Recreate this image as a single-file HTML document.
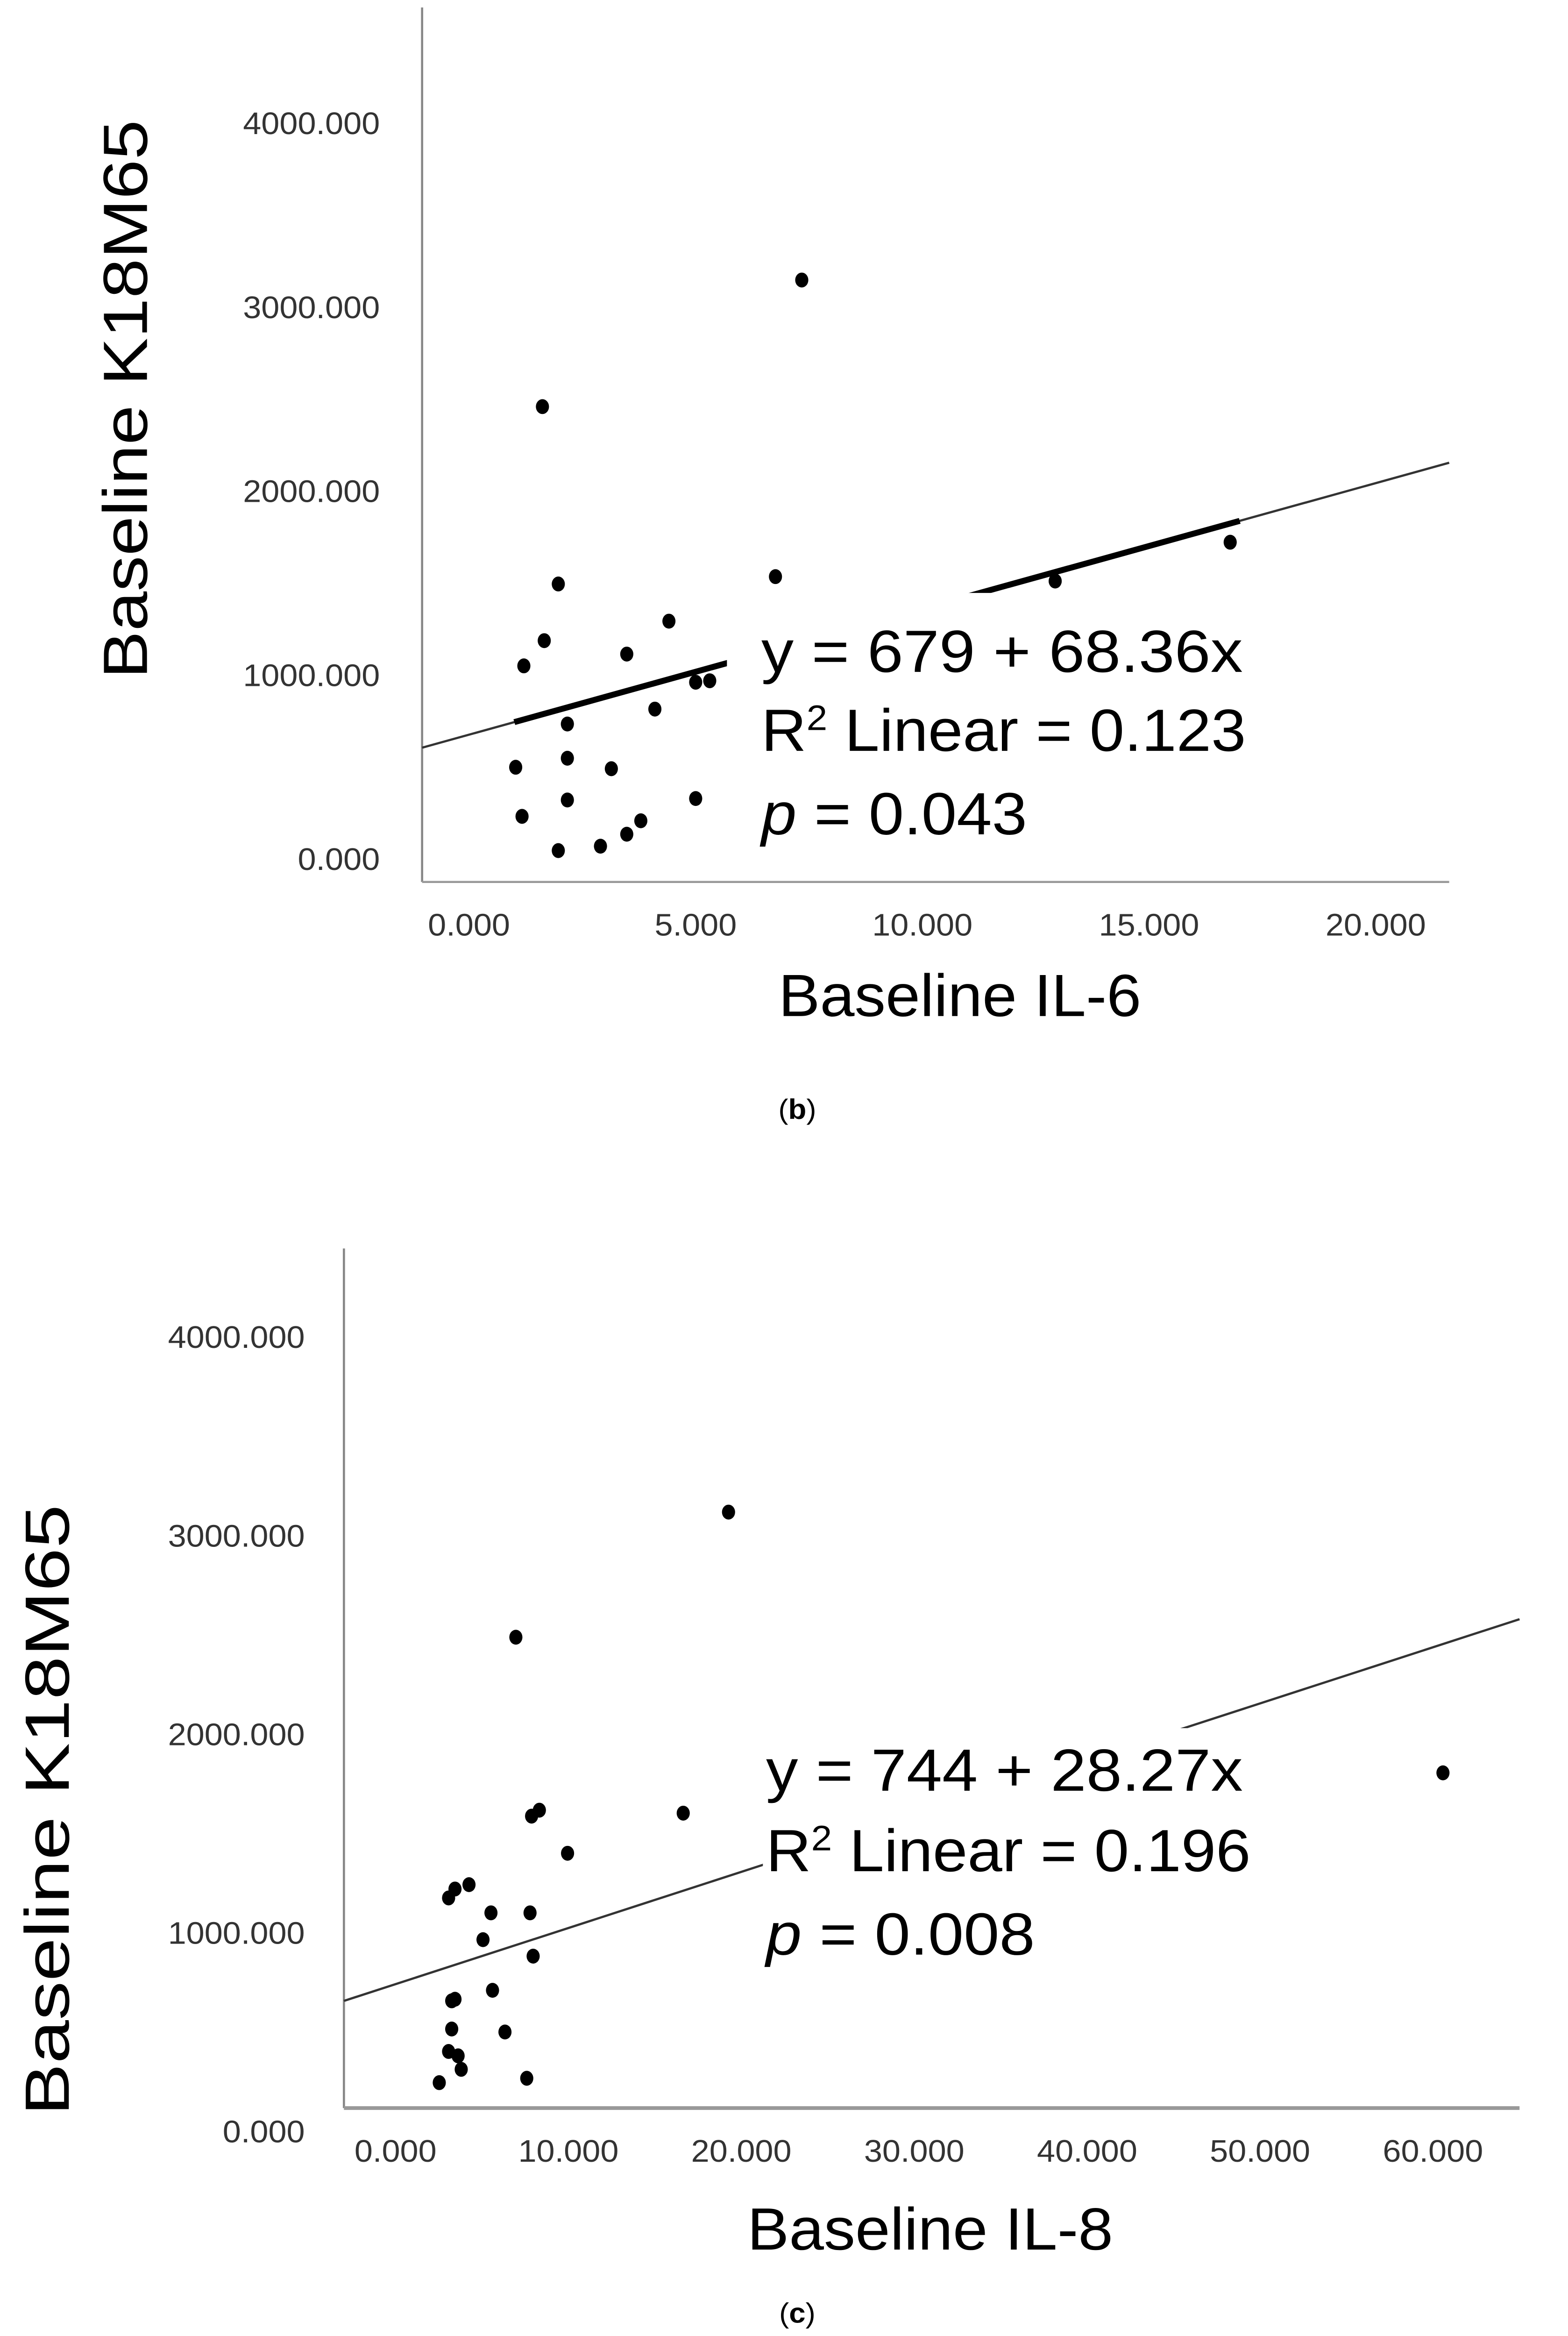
<!DOCTYPE html>
<html><head><meta charset="utf-8"><style>
html,body{margin:0;padding:0;background:#fff;width:100%;height:100%;overflow:hidden;}
svg{display:block;position:fixed;left:0;top:0;width:100vw;height:100vh;}
text{font-family:"Liberation Sans",sans-serif;}
</style></head><body>
<svg id="fig" viewBox="0 0 1003 1568" preserveAspectRatio="none" xmlns="http://www.w3.org/2000/svg">
<rect width="1003" height="1568" fill="#fff"/>
<g id="chartB"></g>
<g id="chartC"></g>
</svg>
<script>
// ---- Chart (b) data ----
const bX = [1.62,7.34,1.97,6.76,12.93,16.79,1.66,1.21,3.48,4.41,2.17,5.0,5.31,4.10,1.03,2.17,3.14,1.17,2.17,5.0,3.48,3.79,1.97,2.90];
const bY = [2462,3150,1498,1538,1514,1725,1190,1053,1117,1296,737,964,972,818,502,551,494,235,324,332,138,211,49,73];
const bYTicks = [0,1000,2000,3000,4000];
const bYTickLabels = ["0.000","1000.000","2000.000","3000.000","4000.000"];
const bXTicks = [0,5,10,15,20];
const bXTickLabels = ["0.000","5.000","10.000","15.000","20.000"];
const bFit = [679,68.36];
// ---- Chart (c) data ----
const cX = [19.26,6.96,60.58,16.64,8.32,7.87,9.95,3.44,4.25,3.07,5.52,7.78,5.06,7.96,3.44,3.25,5.61,3.25,6.33,3.07,3.62,3.80,2.53,7.59];
const cY = [3121,2491,1808,1605,1620,1590,1403,1223,1245,1178,1103,1103,968,885,668,660,713,518,503,405,383,315,248,270];
const cYTicks = [0,1000,2000,3000,4000];
const cYTickLabels = ["0.000","1000.000","2000.000","3000.000","4000.000"];
const cXTicks = [0,10,20,30,40,50,60];
const cXTickLabels = ["0.000","10.000","20.000","30.000","40.000","50.000","60.000"];
const cFit = [744,28.27];

const NS="http://www.w3.org/2000/svg";
function mk(parent,tag,attrs,txt){const e=document.createElementNS(NS,tag);for(const k in attrs)e.setAttribute(k,attrs[k]);if(txt!==undefined)e.textContent=txt;parent.appendChild(e);return e;}

function draw(g,cfg){
  const sx=v=>cfg.x0+v*cfg.kx, sy=v=>cfg.y0-v*cfg.ky;
  const yax=mk(g,'line',{x1:cfg.L,y1:cfg.T,x2:cfg.L,y2:cfg.B,stroke:'#888','stroke-width':1.4});
  
  
  const xax=mk(g,'line',{x1:cfg.L,y1:cfg.B,x2:cfg.R,y2:cfg.B,stroke:'#999','stroke-width':cfg.xw});
  
  
  cfg.yt.forEach((v,i)=>{
    const t=mk(g,'text',{x:cfg.yLabR,y:sy(v)+7,'text-anchor':'end','font-size':21,fill:'#333'},cfg.ytl[i]);
    
    
  });
  cfg.xt.forEach((v,i)=>{
    const t=mk(g,'text',{x:sx(v),y:cfg.xLabY,'text-anchor':'middle','font-size':21,fill:'#333'},cfg.xtl[i]);
    
    
  });
  const xl=(cfg.L-cfg.x0)/cfg.kx, xr=(cfg.R-cfg.x0)/cfg.kx;
  const f=x=>cfg.fit[0]+cfg.fit[1]*x;
  const fl=mk(g,'line',{x1:cfg.L,y1:sy(f(xl)),x2:cfg.R,y2:sy(f(xr)),stroke:'#333','stroke-width':1.5});
  
  
  if(cfg.thick){
    const th=mk(g,'line',{x1:sx(cfg.thick[0]),y1:sy(f(cfg.thick[0])),x2:sx(cfg.thick[1]),y2:sy(f(cfg.thick[1])),stroke:'#000','stroke-width':4});
    
    
  }
  cfg.xs.forEach((x,i)=>{
    const c=mk(g,'ellipse',{cx:sx(x),cy:sy(cfg.ys[i]),rx:4.2,ry:5,fill:'#000'});
    
    
  });
  const box=mk(g,'rect',Object.assign({fill:'#fff'},cfg.box));
  
  
  cfg.eq.forEach((e,i)=>{
    const t=mk(g,'text',{x:cfg.eqX,y:e.y,'font-size':40,fill:'#000',textLength:e.w,lengthAdjust:'spacingAndGlyphs'});
    
    
    t.innerHTML=e.h;
  });
  const yt=mk(g,'text',{x:0,y:0,'font-size':40,fill:'#000','text-anchor':'middle',textLength:cfg.ytitle.w,lengthAdjust:'spacingAndGlyphs',transform:`translate(${cfg.ytitle.x},${cfg.ytitle.y}) rotate(-90)`},'Baseline K18M65');
  
  
  const xt=mk(g,'text',{x:cfg.xtitle.x,y:cfg.xtitle.y,'font-size':40,fill:'#000','text-anchor':'middle',textLength:cfg.xtitle.w,lengthAdjust:'spacingAndGlyphs'},cfg.xtitle.s);
  
  
  const cap=mk(g,'text',{x:cfg.cap.x,y:cfg.cap.y,'font-size':19,fill:'#000','text-anchor':'middle','font-family':'Liberation Serif, serif'});
  
  
  cap.innerHTML='(<tspan font-weight="bold">'+cfg.cap.s+'</tspan>)';
}

draw(document.getElementById('chartB'),{
  L:270,R:927,T:5,B:592,x0:300,kx:29,y0:577,ky:0.1235,xw:1.4,
  yLabR:243,xLabY:628,
  yt:bYTicks,ytl:bYTickLabels,xt:bXTicks,xtl:bXTickLabels,
  xs:bX,ys:bY,fit:bFit,thick:[1.0,17.0],
  box:{x:465,y:398,width:360,height:185},
  eqX:487,
  eq:[{y:451,w:308,h:'y = 679 + 68.36x'},{y:504,w:310,h:'R<tspan font-size="24" dy="-14">2</tspan><tspan dy="14"> Linear = 0.123</tspan>'},{y:560,w:170,h:'<tspan font-style="italic">p</tspan> = 0.043'}],
  ytitle:{x:94,y:268,w:375},xtitle:{x:614,y:682,w:232,s:'Baseline IL-6'},
  cap:{x:510,y:751,s:'b'}
});
draw(document.getElementById('chartC'),{
  L:220,R:972,T:838,B:1415,x0:253,kx:11.06,y0:1431,ky:0.1333,xw:2.5,
  yLabR:195,xLabY:1451,
  yt:cYTicks,ytl:cYTickLabels,xt:cXTicks,xtl:cXTickLabels,
  xs:cX,ys:cY,fit:cFit,thick:null,
  box:{x:488,y:1160,width:340,height:170},
  eqX:490,
  eq:[{y:1202,w:305,h:'y = 744 + 28.27x'},{y:1256,w:310,h:'R<tspan font-size="24" dy="-14">2</tspan><tspan dy="14"> Linear = 0.196</tspan>'},{y:1312,w:172,h:'<tspan font-style="italic">p</tspan> = 0.008'}],
  ytitle:{x:44,y:1215,w:410},xtitle:{x:595,y:1510,w:234,s:'Baseline IL-8'},
  cap:{x:510,y:1559,s:'c'}
});
</script>
</body></html>
